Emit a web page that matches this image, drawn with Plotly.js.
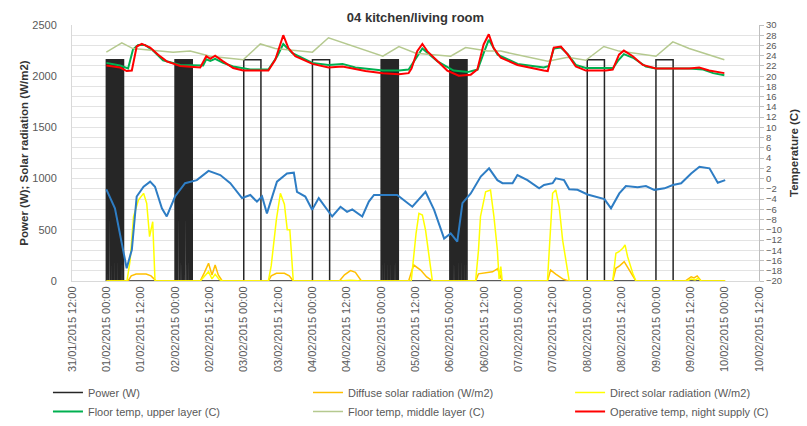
<!DOCTYPE html>
<html><head><meta charset="utf-8">
<script src="https://cdn.plot.ly/plotly-3.0.1.min.js"></script>
<style>html,body{margin:0;padding:0;background:#fff}#chart{width:807px;height:426px}</style>
</head><body><div id="chart"></div>
<script>
// Time axis: hours after 01/02/2015 00:00
const startDate = Date.UTC(2015, 1, 1, 0, 0, 0);

// Power (W): on-intervals [start, end] in hours
const powerLevel = 2160;
const powerOn = [
  [0.0,0.3],[0.55,0.85],[1.1,1.45],[1.7,2.0],[2.3,2.6],[2.85,3.15],[3.45,3.75],[4.0,4.3],[4.6,4.9],[5.15,5.45],[5.7,6.0],
  [24.0,24.3],[24.6,24.9],[25.15,25.5],[25.75,26.05],[26.3,26.6],[26.9,27.2],[27.45,27.8],[28.05,28.35],[28.6,28.9],[29.2,29.5],[29.75,30.0],
  [48.0,54.0],
  [72.0,78.0],
  [96.0,96.3],[96.55,96.85],[97.1,97.4],[97.7,98.0],[98.25,98.55],[98.85,99.15],[99.4,99.7],[100.0,100.3],[100.55,100.85],[101.1,101.4],[101.7,102.0],
  [120.0,120.3],[120.6,120.9],[121.15,121.45],[121.7,122.0],[122.3,122.6],[122.85,123.15],[123.45,123.75],[124.0,124.3],[124.6,124.9],[125.15,125.45],[125.7,126.0],
  [168.0,174.0],
  [192.0,198.0]
];
const powerEnd = 216.0;

// Diffuse solar radiation (W/m2)
const diffuseHours = [0,7.6,8.7,10.4,13.9,15.6,17.4,32.8,34.2,35.7,36.9,38.0,39.1,40.5,56.6,57.6,59.4,62.2,63.9,65.3,81.4,83.2,85.3,87.0,89.1,105.6,106.6,107.4,109.8,111.9,114.0,129.0,130.0,132.5,134.9,136.7,137.8,138.3,154.1,155.2,157.0,159.4,161.5,176.9,178.0,179.4,180.9,182.7,184.3,185.0,202.2,204.3,205.3,206.4,207.8,216.2];
const diffuseValues = [0,0,50,68,68,50,0,0,80,173,59,156,60,0,0,50,75,75,50,0,0,60,101,85,0,0,90,156,107,40,0,0,70,80,90,120,40,0,0,107,68,20,0,0,124,150,189,107,30,0,0,40,30,50,0,0];

// Direct solar radiation (W/m2)
const directHours = [0,7.2,8.3,9.5,11.2,13.0,14.1,15.1,16.2,17.0,32.8,35.7,36.9,38.0,39.4,40.5,56.6,57.6,59.4,60.8,62.2,63.2,64.1,65.3,81.4,85.3,89.1,106.5,108.2,109.2,110.4,111.5,112.7,113.9,129.0,130.0,130.7,132.5,134.2,135.4,136.6,137.2,137.8,138.3,154.1,155.9,157.0,158.2,159.4,161.7,176.9,178.0,179.1,180.4,181.2,182.1,183.9,185.0,202.9,204.3,205.7,206.7,207.8,216.2];
const directValues = [0,0,200,628,791,856,759,433,579,0,0,91,20,65,15,0,0,150,600,856,750,500,500,0,0,8,0,0,466,661,645,498,250,0,0,300,628,872,889,628,303,20,140,0,0,856,889,725,400,0,0,270,286,319,352,238,75,0,0,20,10,25,0,0];

// Outdoor temperature (C) - blue, no legend entry
const outdoorHours = [0,3.0,7.1,8.9,10.6,13.0,15.3,17.0,19.4,21.1,24.0,27.5,31.6,35.7,39.8,43.3,47.4,50.3,52.6,54.4,56.1,59.6,63.1,65.5,66.6,69.5,71.9,74.2,78.9,81.8,84.1,85.9,89.4,91.7,93.5,101.6,106.9,111.5,114.5,118.0,120.3,122.6,124.4,127.3,130.8,133.7,136.6,138.4,141.9,143.6,147.1,151.2,152.9,155.9,157.0,159.9,161.7,164.6,168.1,174.0,176.3,179.2,181.5,185.6,188.5,191.4,195.0,197.9,200.8,204.3,207.2,210.7,213.6,216.2];
const outdoorTemp = [-2.1,-5.8,-17.5,-13.9,-3.5,-1.6,-0.6,-1.6,-5.8,-7.4,-3.5,-0.9,-0.3,1.5,0.7,-0.9,-3.8,-3.2,-4.5,-3.5,-6.8,-0.6,1.0,1.15,-2.6,-3.5,-6.1,-3.8,-7.4,-5.5,-6.5,-6.0,-7.4,-4.5,-3.2,-3.2,-5.5,-2.6,-6.1,-11.7,-10.7,-12.3,-4.8,-2.9,0.4,2.0,-0.3,-0.9,-0.9,0.7,-0.3,-1.9,-1.25,-0.9,0.05,-0.3,-2.1,-2.2,-3.1,-4.0,-5.8,-2.9,-1.45,-1.7,-1.45,-2.2,-1.9,-1.25,-0.9,1.0,2.3,2.0,-0.8,-0.3];

// Floor temp, upper layer (C)
const upperHours = [0,4.8,7.6,9.3,11.1,13.5,16.3,19.8,25.8,33.8,34.9,36.3,38.0,40.8,44.3,50.3,56.6,59.7,61.8,65.0,72.0,77.6,82.5,87.0,96.6,102.2,105.6,107.0,110.4,115.7,121.3,126.2,129.7,131.8,133.6,136.7,143.7,152.8,154.6,156.3,158.8,161.2,164.0,167.5,177.0,178.7,180.8,184.0,188.5,192.0,203.6,208.5,212.0,215.9];
const upperTemp = [22.6,22.1,21.5,25.2,26.1,26.1,25.0,23.1,22.2,22.1,23.3,23.0,23.4,22.6,21.9,21.3,21.3,23.9,26.3,24.5,22.6,22.2,22.4,21.7,21.1,21.1,21.3,22.5,25.4,22.9,21.1,20.8,21.3,24.5,27.1,24.2,22.4,21.7,22.0,25.4,25.6,24.3,22.2,21.6,21.6,23.0,24.3,23.6,21.9,21.5,21.5,21.3,20.6,20.2];

// Floor temp, middle layer (C)
const middleHours = [0,5.4,9.3,23.3,29.3,36.3,47.8,53.8,59.0,72.0,77.6,84.6,96.6,102.2,108.1,120.3,125.5,133.2,137.8,154.2,161.2,167.5,173.8,179.1,192.0,197.9,203.6,215.9];
const middleTemp = [24.7,26.5,25.4,24.7,24.9,23.9,23.2,26.3,25.4,24.7,27.5,26.2,23.9,25.8,24.5,23.9,25.6,24.9,24.9,22.9,23.7,23.1,25.8,24.9,23.9,26.7,25.4,23.2];

// Operative temp, night supply (C)
const operativeHours = [0,4.8,7.1,8.9,10.6,12.4,15.3,18.1,21.1,25.8,32.8,34.9,36.3,38.0,40.8,44.3,47.8,56.6,59.0,61.8,63.6,66.0,72.0,77.6,82.5,86.0,90.5,96.6,102.2,105.6,106.6,108.6,110.4,112.1,115.6,119.1,123.1,127.3,129.6,131.8,133.6,135.3,137.8,143.6,152.8,154.2,156.3,158.8,161.2,164.0,167.5,174.5,176.9,179.1,180.8,183.9,187.4,192.0,203.6,207.1,210.6,215.9];
const operativeTemp = [22.1,21.7,21.0,21.1,25.8,26.3,25.6,24.2,22.9,22.0,21.7,23.9,23.4,24.0,22.9,21.6,21.1,21.1,23.2,28.0,25.5,23.9,22.4,21.7,21.9,21.5,21.0,20.6,20.4,20.6,21.5,24.9,26.3,24.9,22.9,21.1,20.1,20.3,21.3,26.2,28.2,25.5,23.6,22.2,21.1,21.0,25.6,25.8,24.2,21.9,21.1,21.1,21.3,24.2,25.0,23.9,22.2,21.5,21.5,21.7,21.1,20.6];

function toDate(h) {
  return new Date(startDate + h * 3600000).toISOString().slice(0, 19).replace('T', ' ');
}
const dates = arr => arr.map(toDate);

// build power step series from on-intervals
const pX = [0], pY = [0];
powerOn.forEach(([s, e]) => { pX.push(s, s, e, e); pY.push(0, powerLevel, powerLevel, 0); });
pX.push(powerEnd); pY.push(0);

const traces = [
  {name:'Power (W)', x:dates(pX), y:pY, type:'scatter', mode:'lines', line:{color:'#262626', width:1.5}, yaxis:'y', legend:'legend'},
  {name:'Diffuse solar radiation (W/m2)', x:dates(diffuseHours), y:diffuseValues, type:'scatter', mode:'lines', line:{color:'#ffc000', width:1.5}, yaxis:'y', legend:'legend2'},
  {name:'Direct solar radiation (W/m2)', x:dates(directHours), y:directValues, type:'scatter', mode:'lines', line:{color:'#ffff00', width:1.5}, yaxis:'y', legend:'legend3'},
  {name:'Outdoor temp (C)', x:dates(outdoorHours), y:outdoorTemp, type:'scatter', mode:'lines', line:{color:'#2e7dc4', width:2}, yaxis:'y2', showlegend:false},
  {name:'Floor temp, upper layer (C)', x:dates(upperHours), y:upperTemp, type:'scatter', mode:'lines', line:{color:'#00b050', width:2}, yaxis:'y2', legend:'legend'},
  {name:'Floor temp, middle layer (C)', x:dates(middleHours), y:middleTemp, type:'scatter', mode:'lines', line:{color:'#b5c98f', width:1.5}, yaxis:'y2', legend:'legend2'},
  {name:'Operative temp, night supply (C)', x:dates(operativeHours), y:operativeTemp, type:'scatter', mode:'lines', line:{color:'#ff0000', width:2}, yaxis:'y2', legend:'legend3'}
];

const legendBase = {orientation:'v', xref:'paper', yref:'container', xanchor:'left', y:0.1127, yanchor:'top', itemwidth:30,
  font:{size:11, color:'#595959'}, traceorder:'normal', bgcolor:'rgba(0,0,0,0)', borderwidth:0};

const layout = {
  width:807, height:426,
  margin:{l:72, r:48, t:25, b:145},
  paper_bgcolor:'#ffffff', plot_bgcolor:'#ffffff',
  font:{family:'Liberation Sans, Arial, sans-serif', size:11, color:'#595959'},
  title:{text:'<b>04 kitchen/living room</b>', font:{size:13, color:'#333333'}, x:0.5, xref:'paper', y:0.96, yref:'container', yanchor:'middle'},
  showlegend:true,
  legend:Object.assign({}, legendBase, {x:-0.035}),
  legend2:Object.assign({}, legendBase, {x:0.3435}),
  legend3:Object.assign({}, legendBase, {x:0.725}),
  xaxis:{type:'date', range:['2015-01-31 12:00','2015-02-10 12:00'], tick0:'2015-01-31 12:00', dtick:43200000, tickformat:'%d/%m/%Y %H:%M', tickangle:-90, showgrid:false, showline:true, linecolor:'#d9d9d9', ticks:'', zeroline:false, automargin:false, tickfont:{size:11, color:'#595959'}},
  yaxis:{range:[0,2500], dtick:500, showgrid:false, showline:true, linecolor:'#d9d9d9', ticks:'', zeroline:false, automargin:false, ticklabelstandoff:12, tickfont:{size:11, color:'#595959'},
    title:{text:'<b>Power (W); Solar radiation (W/m2)</b>', font:{size:11.5, color:'#333333'}}},
  yaxis2:{overlaying:'y', side:'right', range:[-20,30], dtick:2, showgrid:true, gridcolor:'#e3e3e3', gridwidth:1, showline:true, linecolor:'#bfbfbf', ticks:'outside', ticklen:4, tickcolor:'#bfbfbf', zeroline:false, automargin:false, tickfont:{size:9.5, color:'#595959'},
    title:{text:'<b>Temperature (C)</b>', font:{size:11.5, color:'#333333'}}}
};

Plotly.newPlot('chart', traces, layout, {displayModeBar:false, staticPlot:true});
</script></body></html>
